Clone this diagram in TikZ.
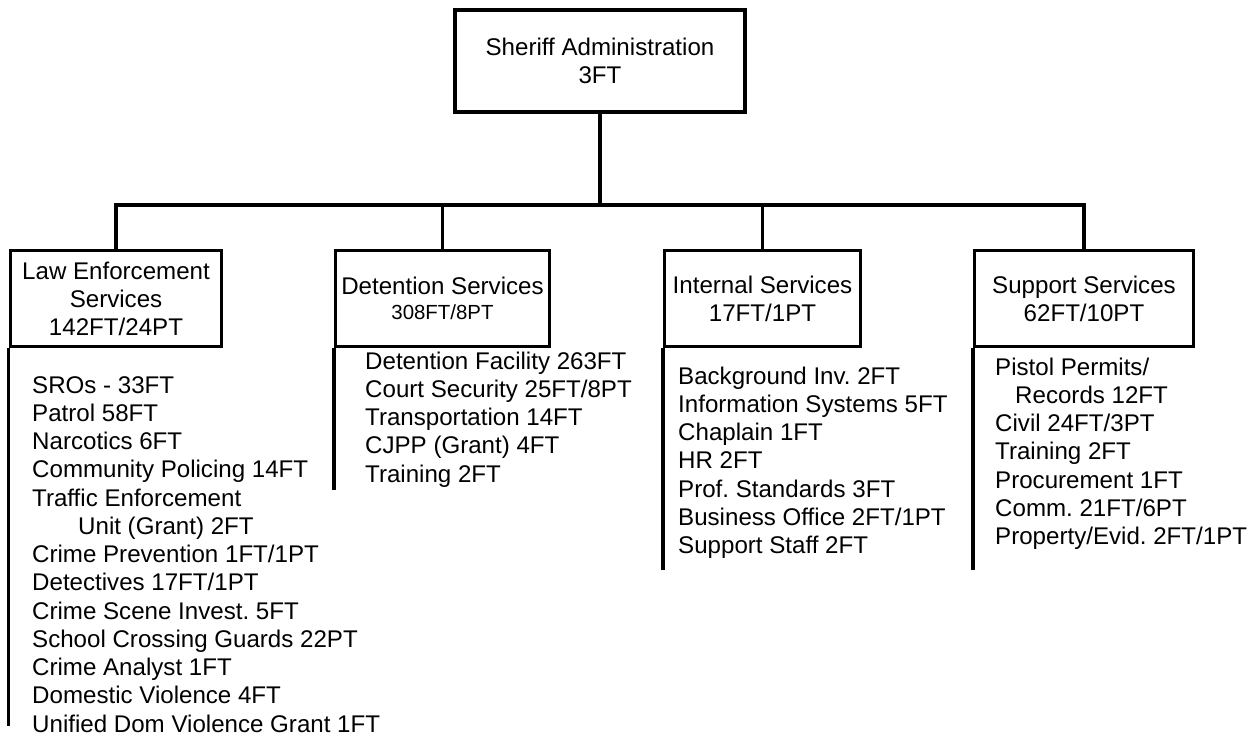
\documentclass[tikz,border=0pt]{standalone}
\usepackage{fontspec}
\setmainfont{Liberation Sans}
\frenchspacing
\begin{document}
\begin{tikzpicture}[x=1bp,y=-1bp,
  every node/.style={font=\fontsize{24.2}{28}\selectfont},
  box/.style={draw,line width=3.5bp,inner sep=0pt,align=center},
  conn/.style={line width=3.5bp},
  item/.style={anchor=base west,inner sep=0pt}]
\useasboundingbox (0,0) rectangle (1247,736);
% boxes
\node[box,minimum width=290bp,minimum height=102bp] (top) at (600,61) {Sheriff Administration\\3FT};
\node[box,minimum width=211bp,minimum height=96bp] (le) at (116,298.5) {Law Enforcement\\Services\\142FT/24PT};
\node[box,minimum width=214bp,minimum height=96bp] (ds) at (442.5,298.5) {Detention Services\\[-3pt]{\fontsize{20.5}{24}\selectfont 308FT/8PT}};
\node[box,minimum width=196bp,minimum height=96bp] (is) at (762.5,298.5) {Internal Services\\17FT/1PT};
\node[box,minimum width=219bp,minimum height=96bp] (ss) at (1084,298.5) {Support Services\\62FT/10PT};
% bus
\coordinate (bus) at (600,205);
\draw[conn] (top.south) -- (bus);
\draw[conn] (le.north) |- (bus) -| (ss.north);
\draw[conn] (ds.north) -- (ds.north |- bus);
\draw[conn] (is.north) -- (is.north |- bus);
% side lines
\coordinate (leend) at (10,726);
\coordinate (dsend) at (335,490);
\coordinate (isend) at (664,570);
\coordinate (ssend) at (974,570);
\draw[conn] (le.south west) -- (le.south west |- leend);
\draw[conn] (ds.south west) -- (ds.south west |- dsend);
\draw[conn] (is.south west) -- (is.south west |- isend);
\draw[conn] (ss.south west) -- (ss.south west |- ssend);
% lists
\foreach [count=\i] \t in {SROs - 33FT, Patrol 58FT, Narcotics 6FT, Community Policing 14FT, Traffic Enforcement, \hspace*{46bp}Unit (Grant) 2FT, Crime Prevention 1FT/1PT, Detectives 17FT/1PT, Crime Scene Invest. 5FT, School Crossing Guards 22PT, Crime Analyst 1FT, Domestic Violence 4FT, Unified Dom Violence Grant 1FT}
  \node[item] (le\i) at (32,{393+(\i-1)*28.25}) {\t};
\foreach [count=\i] \t in {Detention Facility 263FT, Court Security 25FT/8PT, Transportation 14FT, CJPP (Grant) 4FT, Training 2FT}
  \node[item] (ds\i) at (365,{369+(\i-1)*28.25}) {\t};
\foreach [count=\i] \t in {Background Inv. 2FT, Information Systems 5FT, Chaplain 1FT, HR 2FT, Prof. Standards 3FT, Business Office 2FT/1PT, Support Staff 2FT}
  \node[item] (is\i) at (678,{384+(\i-1)*28.25}) {\t};
\foreach [count=\i] \t in {Pistol Permits/, \hspace*{20bp}Records 12FT, Civil 24FT/3PT, Training 2FT, Procurement 1FT, Comm. 21FT/6PT, Property/Evid. 2FT/1PT}
  \node[item] (ss\i) at (995,{375+(\i-1)*28.25}) {\t};
\end{tikzpicture}
\end{document}
